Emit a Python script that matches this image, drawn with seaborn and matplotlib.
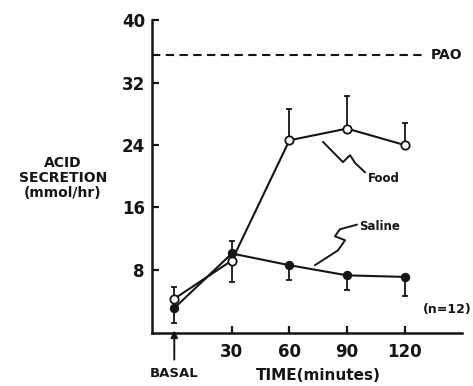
import matplotlib
matplotlib.use("Agg")
import matplotlib.pyplot as plt
import seaborn as sns
import pandas as pd

# values
times = [0, 30, 60, 90, 120]
food_mean = [4.3, 9.2, 24.6, 26.1, 24.0]
food_err = [1.5, 2.5, 4.0, 4.2, 2.8]      # drawn upward
saline_mean = [3.1, 10.1, 8.6, 7.3, 7.1]
saline_err = [1.9, 3.7, 1.9, 1.9, 2.4]    # drawn downward
pao = 35.5
xticks = [30, 60, 90, 120]
yticks = [8, 16, 24, 32, 40]

df = pd.DataFrame({"time": times, "food": food_mean, "saline": saline_mean})

sns.set_style("ticks")
plt.rcParams["font.family"] = ["DejaVu Sans"]
plt.rcParams["font.weight"] = "bold"

ink = "#151515"
fig = plt.figure(figsize=(4.73, 3.86), dpi=100)
ax = fig.add_axes([0.321, 0.137, 0.656, 0.811])

# error bars (one-sided)
ax.errorbar(times, food_mean, yerr=[[0] * 5, food_err], fmt="none",
            ecolor=ink, elinewidth=1.3, capsize=2.5, capthick=1.3, zorder=2)
ax.errorbar(times, saline_mean, yerr=[saline_err, [0] * 5], fmt="none",
            ecolor=ink, elinewidth=1.3, capsize=2.5, capthick=1.3, zorder=2)

sns.lineplot(data=df, x="time", y="food", ax=ax, color=ink, lw=1.5,
             marker="o", markersize=6, markerfacecolor="white",
             markeredgecolor=ink, markeredgewidth=1.3, zorder=3)
sns.lineplot(data=df, x="time", y="saline", ax=ax, color=ink, lw=1.5,
             marker="o", markersize=6, markerfacecolor=ink,
             markeredgecolor=ink, zorder=4)

# PAO dashed reference
ax.axhline(pao, xmax=0.88, color=ink, lw=1.5, ls=(0, (4, 2.6)))
ax.text(133.5, pao, "PAO", fontsize=10, fontweight="bold", va="center",
        ha="left", color=ink, clip_on=False)

# leader squiggles
ax.plot([77.5, 87.9, 91.6, 94.2, 99.4], [24.4, 21.8, 22.7, 21.7, 20.5],
        color=ink, lw=1.4)
ax.text(101, 19.7, "Food", fontsize=8.5, fontweight="bold", va="center", color=ink)
ax.plot([73.3, 85.3, 89.0, 83.7, 86.3, 95.2], [8.6, 10.5, 11.8, 12.3, 13.2, 13.8],
        color=ink, lw=1.4)
ax.text(96.5, 13.6, "Saline", fontsize=8.5, fontweight="bold", va="center", color=ink)
ax.text(142, 2.9, "(n=12)", fontsize=9, fontweight="bold", va="center",
        ha="center", color=ink, clip_on=False)

# basal arrow
ax.annotate("", xy=(0, 0.6), xytext=(0, -25), textcoords=("data", "offset points"),
            arrowprops=dict(arrowstyle="-|>", lw=1.4, color=ink, mutation_scale=10),
            annotation_clip=False)

ax.set_xlim(-11.7, 150)
ax.set_ylim(-0.1, 40)
ax.set_xticks(xticks)
ax.set_yticks(yticks)
ax.tick_params(direction="in", length=5, width=1.6, colors=ink, labelsize=12)
ax.tick_params(axis="y", pad=5)
ax.tick_params(axis="x", pad=7)
for lab in ax.get_xticklabels() + ax.get_yticklabels():
    lab.set_fontweight("bold")
ax.set_xlabel("")
ax.set_ylabel("")
sns.despine(ax=ax)
for s in ["left", "bottom"]:
    ax.spines[s].set_linewidth(1.8)
    ax.spines[s].set_color(ink)

fig.text(0.133, 0.539, "ACID\nSECRETION\n(mmol/hr)", ha="center", va="center",
         fontsize=10, fontweight="bold", linespacing=1.1, color=ink)
fig.text(0.368, 0.032, "BASAL", ha="center", va="center", fontsize=9.5,
         fontweight="bold", color=ink)
fig.text(0.674, 0.028, "TIME(minutes)", ha="center", va="center", fontsize=11,
         fontweight="bold", color=ink)

fig.savefig("out.png", dpi=100)
